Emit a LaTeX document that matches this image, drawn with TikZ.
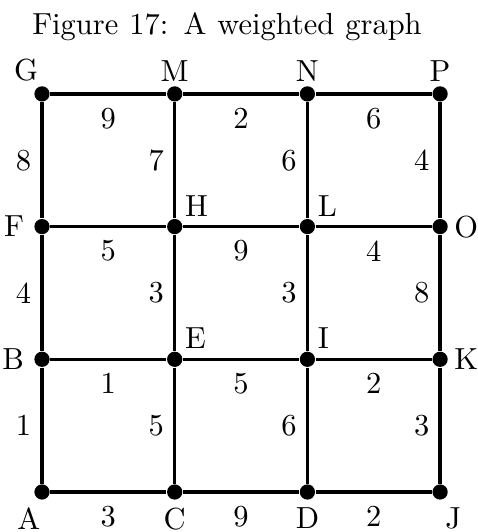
\documentclass[tikz,border=0pt]{standalone}
\usetikzlibrary{positioning}
\begin{document}
\begin{tikzpicture}[x=1.53cm,y=1.53cm,
   vtx/.style={circle,fill=black,inner sep=0pt,minimum size=5pt},
   lbl/.style={inner sep=1.3pt},
   lblb/.style={inner sep=0pt},
   link/.style={line width=1.1pt},
   wt/.style={midway,inner sep=3pt}]
  \useasboundingbox (-0.3165,-0.3014) rectangle (3.2856,3.7076);
  \node[anchor=base,inner sep=0pt] (title) at (1.394,3.444)
    {\makebox[4.49cm][s]{Figure 17: A weighted graph}};

  % ---- vertices ----
  \node[vtx,label={[lblb,label distance=2.2pt,xshift=-4.3pt]below:A}] (A) at (0,0) {};
  \node[vtx,label={[lblb,label distance=2.4pt]below:C}] (C) at (1,0) {};
  \node[vtx,label={[lblb,label distance=2.4pt]below:D}] (D) at (2,0) {};
  \node[vtx,label={[lblb,label distance=2.2pt,xshift=4.3pt]below:J}] (J) at (3,0) {};
  \node[vtx,label={[lbl,label distance=1.7pt]left:B}] (B) at (0,1) {};
  \node[vtx,label={[lbl]above right:E}] (E) at (1,1) {};
  \node[vtx,label={[lbl]above right:I}] (I) at (2,1) {};
  \node[vtx,label={[lbl,label distance=0.5pt]right:K}] (K) at (3,1) {};
  \node[vtx,label={[lbl,label distance=1.7pt]left:F}] (F) at (0,2) {};
  \node[vtx,label={[lbl]above right:H}] (H) at (1,2) {};
  \node[vtx,label={[lbl]above right:L}] (L) at (2,2) {};
  \node[vtx,label={[lbl,label distance=0.5pt]right:O}] (O) at (3,2) {};
  \node[vtx,label={[lbl,xshift=-5.2pt]above:G}] (G) at (0,3) {};
  \node[vtx,label={[lbl]above:M}] (M) at (1,3) {};
  \node[vtx,label={[lbl]above:N}] (N) at (2,3) {};
  \node[vtx,label={[lbl]above:P}] (P) at (3,3) {};

  % ---- weighted edges ----
  \foreach \a/\b/\w in {G/M/9,M/N/2,N/P/6,F/H/5,H/L/9,L/O/4,
                        B/E/1,E/I/5,I/K/2,A/C/3,C/D/9,D/J/2}
    {\draw[link] (\a) -- node[wt,below=1pt]{\w} (\b);}
  \foreach \a/\b/\w in {G/F/8,F/B/4,B/A/1,M/H/7,H/E/3,E/C/5,
                        N/L/6,L/I/3,I/D/6,P/O/4,O/K/8,K/J/3}
    {\draw[link] (\a) -- node[wt,left]{\w} (\b);}
\end{tikzpicture}
\end{document}
